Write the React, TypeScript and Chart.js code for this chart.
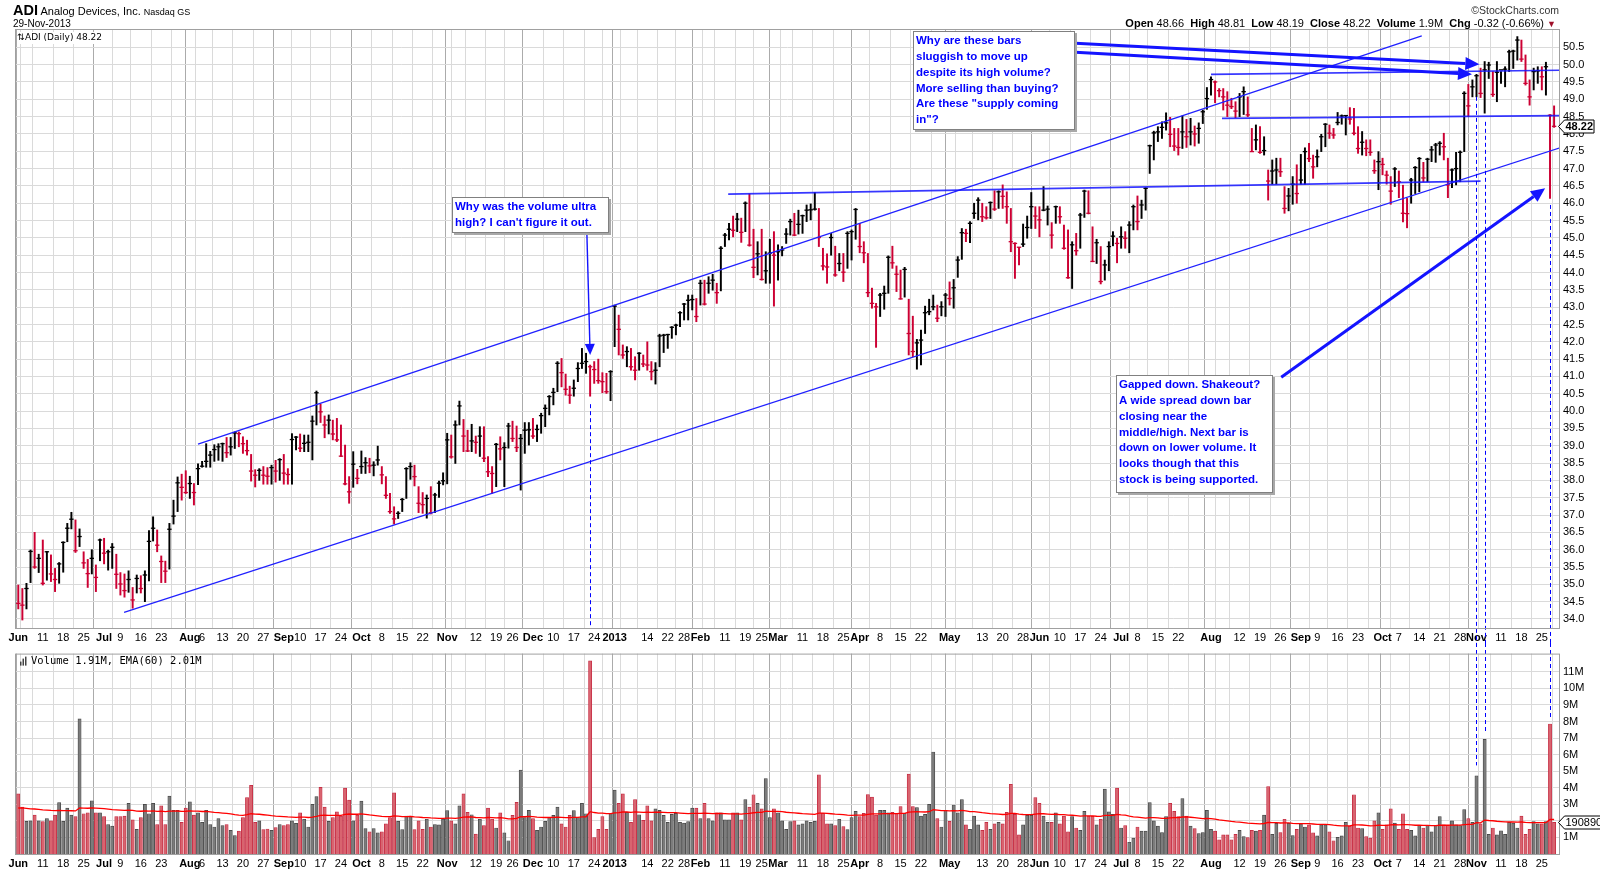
import React, { useEffect, useRef } from "react";
import { Chart, registerables } from "chart.js";

Chart.register(...registerables);

const FONT = '"Liberation Sans", Arial, Helvetica, sans-serif';
const MONO = '"DejaVu Sans Mono", "Liberation Mono", monospace';
const SANS = '"DejaVu Sans", Verdana, sans-serif';

// ---------------- data ----------------
const holidays = [
  "2012-07-04", "2012-09-03", "2012-10-29", "2012-10-30", "2012-11-22", "2012-12-25",
  "2013-01-01", "2013-01-21", "2013-02-18", "2013-03-29", "2013-05-27", "2013-07-04",
  "2013-09-02", "2013-11-28",
];
const firstDay = "2012-06-01";
const lastDay = "2013-11-29";

const xTickDates = [
  "2012-06-01", "2012-06-11", "2012-06-18", "2012-06-25", "2012-07-02", "2012-07-09", "2012-07-16", "2012-07-23",
  "2012-08-01", "2012-08-06", "2012-08-13", "2012-08-20", "2012-08-27", "2012-09-04", "2012-09-10", "2012-09-17",
  "2012-09-24", "2012-10-01", "2012-10-08", "2012-10-15", "2012-10-22", "2012-11-01", "2012-11-12", "2012-11-19",
  "2012-11-26", "2012-12-03", "2012-12-10", "2012-12-17", "2012-12-24", "2013-01-02", "2013-01-14", "2013-01-22",
  "2013-01-28", "2013-02-01", "2013-02-11", "2013-02-19", "2013-02-25", "2013-03-01", "2013-03-11", "2013-03-18",
  "2013-03-25", "2013-04-01", "2013-04-08", "2013-04-15", "2013-04-22", "2013-05-01", "2013-05-13", "2013-05-20",
  "2013-05-28", "2013-06-03", "2013-06-10", "2013-06-17", "2013-06-24", "2013-07-01", "2013-07-08", "2013-07-15",
  "2013-07-22", "2013-08-01", "2013-08-12", "2013-08-19", "2013-08-26", "2013-09-03", "2013-09-09", "2013-09-16",
  "2013-09-23", "2013-10-01", "2013-10-07", "2013-10-14", "2013-10-21", "2013-10-28", "2013-11-01", "2013-11-11",
  "2013-11-18", "2013-11-25",
];
const xTickTexts = [
  "Jun", "11", "18", "25", "Jul", "9", "16", "23",
  "Aug", "6", "13", "20", "27", "Sep", "10", "17",
  "24", "Oct", "8", "15", "22", "Nov", "12", "19",
  "26", "Dec", "10", "17", "24", "2013", "14", "22",
  "28", "Feb", "11", "19", "25", "Mar", "11", "18",
  "25", "Apr", "8", "15", "22", "May", "13", "20",
  "28", "Jun", "10", "17", "24", "Jul", "8", "15",
  "22", "Aug", "12", "19", "26", "Sep", "9", "16",
  "23", "Oct", "7", "14", "21", "28", "Nov", "11",
  "18", "25",
];

const highs = [
  34.98, 34.88, 35.03, 35.99, 36.50, 35.87, 36.28, 35.95, 35.85, 35.46,
  35.63, 36.23, 36.76, 37.08, 36.86, 36.60, 35.94, 35.72, 36.00, 35.56,
  36.31, 36.33, 35.99, 36.18, 35.87, 35.34, 35.30, 35.39, 34.91, 35.27,
  35.25, 35.39, 36.55, 36.95, 36.57, 35.82, 35.67, 36.76, 37.43, 38.10,
  38.18, 38.28, 38.12, 37.91, 38.48, 38.55, 39.06, 38.84, 39.03, 39.06,
  39.08, 39.24, 39.24, 39.40, 39.40, 39.26, 39.16, 38.75, 38.31, 38.34,
  38.40, 38.37, 38.44, 38.58, 38.63, 38.75, 38.34, 39.35, 39.27, 39.34,
  39.31, 39.31, 39.86, 40.58, 40.20, 39.86, 39.89, 39.74, 39.79, 39.60,
  39.02, 38.11, 38.83, 38.32, 38.85, 38.66, 38.64, 38.54, 38.99, 38.40,
  38.11, 37.63, 37.24, 37.10, 37.48, 38.37, 38.51, 38.44, 37.82, 37.65,
  37.58, 37.82, 37.63, 37.98, 38.22, 39.36, 39.31, 39.72, 40.29, 39.76,
  39.45, 39.62, 39.28, 39.55, 39.55, 38.69, 38.40, 39.07, 39.26, 39.09,
  39.65, 39.71, 39.57, 39.33, 39.67, 39.67, 39.79, 39.60, 39.94, 40.18,
  40.45, 40.66, 41.43, 41.52, 41.07, 40.72, 40.90, 41.40, 41.81, 41.67,
  41.33, 41.43, 41.50, 41.11, 41.09, 41.17, 43.06, 42.77, 41.91, 41.86,
  41.81, 41.57, 41.69, 41.62, 42.00, 41.43, 41.40, 42.22, 42.22, 42.22,
  42.44, 42.51, 42.87, 43.11, 43.35, 43.35, 43.25, 43.78, 43.78, 43.88,
  43.95, 43.69, 44.75, 45.13, 45.42, 45.63, 45.71, 45.57, 46.04, 46.27,
  45.25, 44.89, 45.25, 44.60, 44.96, 45.18, 44.80, 44.75, 45.27, 45.54,
  45.71, 45.80, 45.66, 45.95, 45.98, 46.31, 45.85, 44.70, 44.54, 45.13,
  44.76, 44.55, 44.55, 45.18, 45.23, 45.85, 45.42, 44.89, 44.55, 43.55,
  43.11, 43.40, 43.61, 44.48, 44.76, 44.19, 44.07, 44.15, 43.23, 42.74,
  42.07, 42.34, 43.03, 43.23, 43.35, 43.06, 43.16, 43.40, 43.73, 43.80,
  44.46, 45.27, 45.25, 45.47, 46.00, 46.16, 46.00, 45.90, 46.04, 46.36,
  46.36, 46.53, 46.33, 45.85, 44.86, 44.73, 45.40, 45.63, 46.31, 45.90,
  45.90, 46.48, 45.92, 45.44, 45.92, 45.90, 45.37, 45.23, 44.89, 45.13,
  45.71, 46.38, 46.36, 45.32, 44.96, 44.75, 44.36, 44.89, 45.18, 44.99,
  45.32, 45.18, 45.47, 45.95, 46.21, 46.09, 46.45, 47.68, 48.08, 48.21,
  48.35, 48.61, 48.48, 48.16, 48.16, 48.52, 48.42, 48.45, 48.23, 48.32,
  48.69, 49.34, 49.65, 49.53, 49.31, 49.31, 49.22, 49.03, 48.93, 49.17,
  49.36, 49.07, 48.16, 48.26, 48.21, 47.92, 46.96, 47.25, 47.30, 47.30,
  46.48, 46.43, 46.77, 47.11, 47.41, 47.60, 47.73, 47.39, 47.54, 47.99,
  48.30, 48.26, 48.16, 48.62, 48.55, 48.53, 48.76, 48.74, 48.21, 48.07,
  47.83, 47.83, 47.25, 47.49, 47.30, 46.93, 46.77, 47.03, 46.93, 46.52,
  46.14, 46.72, 47.06, 47.32, 47.18, 47.30, 47.64, 47.73, 47.78, 48.02,
  47.30, 46.99, 47.47, 47.51, 49.22, 49.43, 49.56, 49.72, 49.90, 50.09,
  50.07, 49.80, 50.09, 49.80, 49.94, 50.42, 50.42, 50.81, 50.71, 50.28,
  49.56, 49.90, 49.94, 49.94, 50.07, 48.56, 48.81,
];

const lows = [
  34.29, 33.97, 34.29, 35.05, 35.46, 35.34, 34.98, 35.12, 35.08, 34.79,
  35.03, 35.35, 36.23, 36.60, 35.92, 36.09, 35.46, 34.91, 35.30, 34.79,
  35.68, 35.59, 35.41, 35.46, 34.88, 34.69, 34.63, 34.77, 34.31, 34.75,
  34.75, 34.50, 35.10, 36.25, 35.94, 35.05, 35.05, 35.44, 36.74, 37.10,
  37.43, 37.62, 37.48, 37.29, 37.88, 38.38, 38.38, 38.38, 38.55, 38.58,
  38.55, 38.66, 38.73, 38.92, 38.97, 38.78, 38.73, 37.98, 37.81, 38.00,
  37.89, 37.89, 37.89, 37.95, 38.00, 37.89, 37.89, 37.89, 38.88, 38.83,
  38.83, 38.83, 38.59, 39.60, 39.67, 39.23, 39.34, 39.17, 39.12, 38.69,
  37.87, 37.34, 37.80, 37.90, 38.20, 38.20, 38.22, 38.13, 38.44, 37.90,
  37.48, 37.05, 36.74, 36.90, 37.10, 37.48, 38.03, 37.84, 37.07, 37.05,
  36.91, 37.03, 37.07, 37.51, 37.87, 37.90, 38.64, 38.49, 39.60, 38.83,
  38.83, 38.83, 38.78, 38.69, 38.54, 38.11, 37.63, 37.82, 38.59, 37.82,
  38.93, 39.12, 38.83, 37.72, 38.78, 39.02, 39.21, 39.12, 39.36, 39.55,
  39.89, 40.18, 40.56, 40.70, 40.46, 40.22, 40.43, 40.85, 41.23, 41.09,
  40.43, 40.80, 40.80, 40.53, 40.51, 40.30, 41.86, 41.62, 41.52, 41.28,
  41.18, 40.90, 41.18, 41.28, 41.18, 40.90, 40.78, 41.28, 41.69, 41.81,
  42.10, 42.20, 42.44, 42.63, 42.63, 42.92, 42.58, 43.06, 43.06, 43.40,
  43.49, 43.11, 43.47, 44.75, 44.94, 45.03, 45.18, 44.87, 45.18, 44.76,
  43.85, 43.93, 43.78, 43.69, 43.69, 43.03, 43.78, 44.48, 44.84, 45.08,
  45.06, 45.11, 45.13, 45.47, 45.52, 45.80, 44.75, 44.07, 43.69, 44.50,
  43.89, 44.05, 43.74, 44.12, 44.36, 44.96, 44.57, 44.28, 43.30, 42.97,
  41.84, 42.73, 42.94, 43.40, 44.12, 43.45, 43.23, 43.29, 41.62, 41.57,
  41.21, 41.33, 42.24, 42.78, 42.92, 42.58, 42.75, 42.73, 43.06, 42.97,
  43.86, 44.38, 44.89, 44.86, 45.56, 45.52, 45.47, 45.54, 45.56, 45.79,
  45.85, 45.85, 45.42, 44.60, 43.83, 44.22, 44.75, 44.99, 45.27, 45.27,
  45.03, 45.78, 45.37, 44.70, 45.42, 45.42, 44.67, 43.83, 43.54, 44.50,
  44.70, 45.59, 45.69, 44.31, 44.26, 43.67, 43.78, 44.05, 44.77, 44.28,
  44.70, 44.70, 44.57, 45.23, 45.23, 45.56, 45.80, 46.86, 47.25, 47.78,
  47.87, 48.11, 47.63, 47.52, 47.39, 47.58, 47.61, 47.68, 47.65, 47.73,
  48.30, 48.71, 49.12, 48.90, 49.07, 48.69, 48.50, 48.73, 48.47, 48.50,
  48.56, 48.50, 47.49, 47.54, 47.44, 47.39, 46.09, 46.55, 46.55, 46.77,
  45.71, 45.78, 45.97, 46.00, 46.55, 46.55, 47.20, 46.72, 47.05, 47.49,
  47.63, 47.87, 47.87, 48.26, 48.28, 47.97, 48.28, 47.97, 47.44, 47.39,
  47.37, 47.38, 46.86, 46.39, 46.82, 46.55, 45.97, 46.48, 46.16, 45.46,
  45.29, 46.00, 46.28, 46.33, 46.62, 46.62, 47.20, 47.18, 47.39, 47.25,
  46.16, 46.45, 46.53, 46.62, 47.49, 48.50, 49.07, 49.07, 49.05, 48.60,
  49.60, 49.08, 48.93, 49.46, 49.36, 49.80, 49.89, 50.13, 50.09, 49.41,
  48.83, 49.27, 49.46, 49.27, 49.12, 46.14, 48.19,
];

const closes = [
  34.45, 34.40, 34.88, 35.95, 35.50, 35.75, 35.03, 35.94, 35.30, 35.14,
  35.59, 36.21, 36.62, 36.88, 35.97, 36.38, 35.62, 35.31, 35.75, 35.20,
  36.28, 35.90, 35.94, 36.07, 35.29, 35.01, 34.82, 35.14, 34.55, 35.17,
  34.88, 35.27, 36.24, 36.62, 36.13, 35.66, 35.38, 36.59, 36.97, 37.93,
  37.80, 37.65, 37.91, 37.65, 38.34, 38.41, 38.55, 38.73, 38.89, 38.97,
  39.06, 38.80, 38.97, 39.37, 39.35, 39.06, 38.86, 38.27, 38.15, 38.29,
  38.15, 38.12, 38.37, 38.27, 38.60, 38.21, 38.17, 39.18, 39.25, 38.93,
  39.07, 39.10, 39.71, 40.53, 39.98, 39.60, 39.74, 39.34, 39.17, 38.70,
  37.90, 37.67, 38.47, 38.06, 38.40, 38.51, 38.42, 38.44, 38.59, 38.16,
  37.57, 37.10, 36.89, 37.05, 37.45, 38.34, 38.40, 38.11, 37.34, 37.30,
  37.48, 37.07, 37.58, 37.92, 37.99, 39.17, 38.68, 39.60, 40.15, 39.28,
  38.85, 39.14, 39.10, 39.28, 38.64, 38.25, 38.20, 39.04, 38.91, 38.95,
  39.57, 39.21, 38.95, 39.21, 39.45, 39.46, 39.28, 39.47, 39.87, 40.08,
  40.42, 40.54, 41.38, 41.11, 40.63, 40.46, 40.66, 41.23, 41.38, 41.43,
  41.28, 41.20, 40.88, 40.85, 40.56, 41.14, 43.03, 42.36, 41.62, 41.72,
  41.28, 41.18, 41.67, 41.36, 41.33, 41.14, 41.18, 42.17, 42.19, 42.21,
  42.42, 42.48, 42.84, 43.09, 43.20, 43.22, 42.73, 43.69, 43.09, 43.69,
  43.78, 43.42, 44.70, 45.08, 45.25, 45.22, 45.54, 45.16, 46.00, 44.79,
  44.15, 44.54, 43.80, 44.05, 44.56, 44.50, 44.60, 44.65, 45.11, 45.47,
  45.08, 45.39, 45.64, 45.80, 45.81, 45.83, 45.01, 44.19, 44.16, 45.01,
  43.93, 44.26, 44.01, 45.13, 45.18, 45.82, 44.75, 44.57, 43.42, 43.11,
  43.01, 43.35, 43.40, 44.44, 44.28, 43.95, 43.24, 44.09, 42.24, 41.72,
  41.97, 42.05, 42.84, 42.87, 43.01, 42.68, 43.01, 43.35, 43.25, 43.56,
  44.36, 45.15, 45.13, 45.42, 45.71, 46.09, 45.61, 45.58, 46.02, 45.83,
  46.33, 46.20, 45.90, 44.89, 44.84, 44.73, 44.82, 45.30, 45.90, 45.63,
  45.52, 45.80, 45.83, 45.08, 45.90, 45.61, 44.70, 43.85, 44.80, 44.63,
  45.66, 46.35, 45.71, 44.32, 44.86, 43.74, 44.22, 44.75, 45.05, 44.84,
  45.03, 44.99, 45.37, 45.90, 45.47, 45.95, 46.43, 47.66, 48.03, 48.06,
  48.19, 48.32, 47.99, 47.65, 47.61, 48.06, 47.92, 48.06, 48.00, 48.16,
  48.64, 49.02, 49.57, 49.50, 49.25, 49.07, 48.83, 48.79, 48.66, 49.07,
  49.22, 48.55, 47.49, 47.83, 47.47, 47.52, 46.64, 46.93, 46.96, 46.91,
  45.85, 46.21, 46.55, 46.28, 46.67, 47.49, 47.29, 47.05, 47.34, 47.92,
  48.28, 48.02, 47.97, 48.33, 48.52, 48.53, 48.43, 48.02, 47.58, 47.76,
  47.58, 47.47, 46.94, 47.20, 47.12, 46.81, 46.35, 46.99, 46.62, 45.71,
  45.70, 46.67, 47.03, 47.29, 46.73, 47.27, 47.54, 47.68, 47.73, 47.63,
  46.53, 46.96, 47.00, 47.47, 49.17, 48.81, 49.36, 49.68, 49.17, 49.85,
  49.99, 49.14, 49.78, 49.85, 49.87, 50.37, 50.39, 50.71, 50.16, 49.46,
  49.07, 49.80, 49.82, 49.65, 49.94, 48.54, 48.22,
];

// volume in millions of shares
const volumes = [
  3.63, 2.83, 1.97, 2.0, 2.35, 2.0, 1.95, 2.14, 2.0, 2.35,
  3.1, 1.97, 2.77, 2.35, 2.26, 8.16, 2.43, 2.49, 3.21, 2.49,
  2.49, 2.26, 1.78, 1.68, 2.26, 2.26, 2.29, 3.06, 2.06, 1.49,
  2.2, 3.0, 2.43, 3.06, 1.78, 2.91, 1.78, 3.5, 2.64, 2.64,
  1.91, 2.77, 3.15, 2.35, 2.49, 1.91, 2.64, 1.78, 1.63, 2.14,
  1.72, 1.78, 1.43, 1.11, 1.38, 2.2, 3.4, 4.15, 1.91, 2.0,
  1.47, 1.51, 1.43, 1.59, 1.78, 1.72, 1.78, 2.0, 1.85, 2.49,
  2.1, 1.63, 3.0, 3.46, 4.02, 2.83, 1.97, 2.2, 2.54, 2.29,
  3.98, 3.25, 2.0, 2.35, 3.19, 1.53, 1.34, 1.53, 1.28, 1.34,
  1.82, 2.2, 3.69, 1.97, 1.47, 2.29, 2.29, 1.47, 2.0, 1.49,
  2.1, 1.63, 1.78, 1.76, 2.1, 2.62, 2.0, 1.82, 2.91, 3.63,
  2.52, 2.37, 1.2, 2.1, 1.72, 2.77, 2.1, 1.57, 2.49, 1.28,
  0.8, 2.33, 3.12, 5.07, 2.2, 2.64, 2.14, 1.43, 1.63, 1.97,
  2.2, 2.33, 2.83, 1.82, 1.63, 2.33, 2.62, 2.2, 3.06, 2.43,
  11.66, 0.99, 1.49, 2.26, 1.49, 2.43, 3.86, 3.06, 3.63, 2.52,
  1.91, 3.29, 2.37, 2.03, 2.91, 2.0, 2.72, 2.64, 2.33, 1.91,
  2.39, 2.45, 1.91, 1.87, 1.95, 2.77, 2.77, 2.14, 3.06, 2.14,
  2.0, 2.49, 2.49, 2.06, 2.06, 2.49, 2.49, 2.06, 3.29, 2.83,
  3.58, 3.06, 2.72, 4.55, 2.2, 2.73, 2.49, 2.0, 1.49, 1.95,
  2.0, 1.76, 1.82, 2.0, 1.91, 1.97, 4.78, 2.45, 1.82, 1.82,
  1.72, 2.1, 1.66, 1.47, 2.2, 2.58, 2.26, 2.45, 3.59, 3.44,
  2.35, 2.64, 2.64, 2.49, 2.52, 2.45, 2.87, 2.45, 4.82, 2.87,
  2.81, 2.29, 2.39, 3.0, 6.16, 2.14, 1.63, 2.64, 1.97, 2.96,
  2.49, 3.29, 1.76, 1.49, 2.29, 1.76, 1.43, 1.91, 1.49, 1.82,
  1.91, 1.82, 2.52, 4.21, 2.39, 1.15, 1.76, 2.33, 2.33, 3.4,
  3.06, 2.29, 1.91, 1.91, 2.49, 1.82, 2.29, 1.34, 2.26, 1.57,
  1.43, 2.58, 2.29, 2.29, 1.76, 2.1, 3.92, 2.54, 2.39, 3.98,
  1.57, 1.72, 0.71, 0.96, 1.63, 1.38, 1.38, 3.1, 2.0, 1.68,
  1.3, 2.26, 3.06, 2.58, 2.26, 3.35, 2.29, 1.68, 1.53, 1.24,
  1.3, 2.64, 1.49, 1.38, 0.86, 1.15, 1.15, 0.86, 1.19, 1.43,
  1.05, 0.99, 1.43, 1.38, 1.43, 2.35, 4.07, 1.19, 1.85, 1.3,
  2.1, 1.85, 1.11, 1.49, 1.82, 1.63, 1.76, 1.28, 1.09, 1.76,
  1.76, 1.34, 0.8, 1.01, 1.09, 1.91, 1.68, 3.58, 1.57, 1.53,
  1.05, 0.96, 2.0, 2.49, 1.49, 1.76, 2.73, 1.87, 1.49, 2.43,
  1.49, 1.43, 1.09, 1.72, 1.57, 1.72, 1.34, 1.72, 2.26, 1.76,
  1.72, 2.0, 1.76, 1.72, 2.68, 2.14, 1.91, 4.72, 1.82, 6.92,
  1.19, 1.57, 1.15, 1.4, 1.19, 1.91, 1.87, 1.57, 2.29, 1.19,
  1.49, 1.95, 1.82, 1.82, 1.95, 7.85, 1.91,
];

const priorClose = 34.6;
const emaSeed = 2.75;
const emaPeriod = 60;
const lastClose = 48.22;
const lastVolumeLabel = "1908900";

const priceTicks = [
  34.0, 34.5, 35.0, 35.5, 36.0, 36.5, 37.0, 37.5, 38.0, 38.5, 39.0, 39.5, 40.0, 40.5, 41.0, 41.5, 42.0,
  42.5, 43.0, 43.5, 44.0, 44.5, 45.0, 45.5, 46.0, 46.5, 47.0, 47.5, 48.0, 48.5, 49.0, 49.5, 50.0, 50.5,
];
const volumeTicks = [1, 2, 3, 4, 5, 6, 7, 8, 9, 10, 11];

// annotations, in data coordinates [bar index, price]
const channelLines = [
  { from: [44.0, 39.05], to: [343.6, 50.83] },
  { from: [25.9, 34.19], to: [378.5, 47.64] },
];
const levelLines = [
  { from: [173.8, 46.26], to: [358.0, 46.64] },
  { from: [294.7, 48.45], to: [378.5, 48.53] },
  { from: [292.0, 49.72], to: [378.5, 49.84] },
];
const arrowLines = [
  { from: [139.2, 45.14], to: [140.0, 41.62], kind: "thin" },
  { from: [258.8, 50.62], to: [357.7, 50.01], kind: "thick" },
  { from: [258.8, 50.36], to: [355.9, 49.72], kind: "thick" },
  { from: [309.2, 40.98], to: [373.8, 46.43], kind: "thick" },
];
// dashed markers: bar index, price where it starts, volume where it ends (null: price panel only)
const dashMarkers = [
  { i: 140.0, p: 40.2, v: null },
  { i: 356.8, p: 49.07, v: 5.35 },
  { i: 359.1, p: 48.35, v: 7.36 },
  { i: 374.9, p: 45.95, v: 8.2 },
];
const notes = [
  { at: [106.2, 46.18], w: 157, h: 36, lines: ["Why was the volume ultra", "high? I can't figure it out."] },
  {
    at: [219.1, 50.97], w: 162, h: 99,
    lines: ["Why are these bars", "sluggish to move up", "despite its high volume?", "More selling than buying?", "Are these \"supply coming", "in\"?"],
  },
  {
    at: [268.8, 41.04], w: 157, h: 118,
    lines: ["Gapped down. Shakeout?", "A wide spread down bar", "closing near the", "middle/high. Next bar is", "down on lower volume. It", "looks though that this", "stock is being supported."],
  },
];

// ---------------- derived ----------------
function buildDates(): string[] {
  const out: string[] = [];
  const d = new Date(firstDay + "T00:00:00Z");
  const end = new Date(lastDay + "T00:00:00Z").getTime();
  while (d.getTime() <= end) {
    const dow = d.getUTCDay();
    const s = d.toISOString().slice(0, 10);
    if (dow !== 0 && dow !== 6 && holidays.indexOf(s) < 0) out.push(s);
    d.setUTCDate(d.getUTCDate() + 1);
  }
  return out;
}
const dates = buildDates();
const N = closes.length;
const isUp = closes.map((c, i) => c >= (i ? closes[i - 1] : priorClose));

const monthStart = new Set<number>();
const gridIdx: number[] = [];
dates.forEach((s, i) => {
  if (i >= N) return;
  if (i === 0) { monthStart.add(0); gridIdx.push(0); return; }
  const d = new Date(s + "T00:00:00Z");
  const q = new Date(dates[i - 1] + "T00:00:00Z");
  const newMonth = d.getUTCMonth() !== q.getUTCMonth();
  const newWeek = d.getUTCDay() < q.getUTCDay() || d.getTime() - q.getTime() >= 7 * 864e5;
  if (newMonth) monthStart.add(i);
  if (newMonth || newWeek) gridIdx.push(i);
});
const labelAt: Record<number, string> = {};
xTickDates.forEach((s, k) => {
  const i = dates.indexOf(s);
  if (i >= 0) labelAt[i] = xTickTexts[k];
});

const emaValues: number[] = [];
{
  let e = emaSeed;
  const k = 2 / (emaPeriod + 1);
  volumes.forEach((v) => { e = e + k * (v - e); emaValues.push(e); });
}

const X_MIN = -0.56;
const X_MAX = 377.2;
const P_MIN = 33.74;
const P_MAX = 51.0;
const V_MAX = 12.1;

const RED = "#cc0033";
const BLACK = "#000000";

function xScale(h: number): any {
  return {
    type: "linear",
    min: X_MIN,
    max: X_MAX,
    offset: false,
    afterBuildTicks: (s: any) => { s.ticks = gridIdx.map((v) => ({ value: v })); },
    afterFit: (s: any) => { s.height = h; },
    grid: {
      color: (c: any) => (c.tick && monthStart.has(c.tick.value) ? "#ababab" : "#dadada"),
      lineWidth: 1,
      drawTicks: false,
    },
    border: { display: false },
    ticks: {
      autoSkip: false,
      maxRotation: 0,
      minRotation: 0,
      padding: 3,
      color: "#000",
      callback: (v: any) => labelAt[v] ?? "",
      font: (c: any) => {
        const t = c.tick ? labelAt[c.tick.value] : undefined;
        return { family: FONT, size: 11, weight: t && !/^\d{1,2}$/.test(t) ? "bold" : "normal" };
      },
    },
  };
}

function drawArrow(ctx: CanvasRenderingContext2D, x1: number, y1: number, x2: number, y2: number, w: number, L: number, H: number) {
  const ang = Math.atan2(y2 - y1, x2 - x1);
  const bx = x2 - L * Math.cos(ang);
  const by = y2 - L * Math.sin(ang);
  ctx.lineWidth = w;
  ctx.beginPath();
  ctx.moveTo(x1, y1);
  ctx.lineTo(bx, by);
  ctx.stroke();
  ctx.beginPath();
  ctx.moveTo(x2, y2);
  ctx.lineTo(bx + H * Math.sin(ang), by - H * Math.cos(ang));
  ctx.lineTo(bx - H * Math.sin(ang), by + H * Math.cos(ang));
  ctx.closePath();
  ctx.fill();
}

function drawValueTag(ctx: CanvasRenderingContext2D, x0: number, y: number, text: string, bold: boolean, w: number) {
  ctx.beginPath();
  ctx.moveTo(x0 - 1.5, y);
  ctx.lineTo(x0 + 4.5, y - 6.5);
  ctx.lineTo(x0 + w, y - 6.5);
  ctx.lineTo(x0 + w, y + 6.5);
  ctx.lineTo(x0 + 4.5, y + 6.5);
  ctx.closePath();
  ctx.fillStyle = "#fff";
  ctx.fill();
  ctx.strokeStyle = "#000";
  ctx.lineWidth = 1;
  ctx.stroke();
  ctx.fillStyle = "#000";
  ctx.font = `${bold ? "bold " : ""}11px ${FONT}`;
  ctx.textBaseline = "middle";
  ctx.textAlign = "left";
  ctx.fillText(text, x0 + 5.5, y + 0.5);
}

const pricePlugin = {
  id: "priceOverlay",
  afterDraw(chart: any) {
    const ctx: CanvasRenderingContext2D = chart.ctx;
    const a = chart.chartArea;
    const xs = chart.scales.x;
    const ys = chart.scales.y;
    const X = (i: number) => xs.getPixelForValue(i);
    const Y = (p: number) => ys.getPixelForValue(p);
    ctx.save();

    // title
    ctx.font = `9px ${SANS}`;
    const title = "ADI (Daily) 48.22";
    const tw = ctx.measureText(title).width;
    ctx.fillStyle = "#fff";
    ctx.fillRect(a.left + 1, a.top + 2, tw + 11, 12);
    ctx.fillStyle = "#000";
    ctx.textBaseline = "middle";
    ctx.textAlign = "left";
    ctx.fillText("\u21C5", a.left + 1, a.top + 8);
    ctx.fillText(title, a.left + 9, a.top + 8);

    // lines clipped to the plot
    ctx.save();
    ctx.beginPath();
    ctx.rect(a.left, a.top, a.right - a.left, a.bottom - a.top);
    ctx.clip();
    ctx.strokeStyle = "#2020ff";
    ctx.lineWidth = 1.3;
    channelLines.forEach((l) => {
      ctx.beginPath();
      ctx.moveTo(X(l.from[0]), Y(l.from[1]));
      ctx.lineTo(X(l.to[0]), Y(l.to[1]));
      ctx.stroke();
    });
    ctx.strokeStyle = "rgba(20,20,255,0.85)";
    ctx.lineWidth = 1.7;
    levelLines.forEach((l) => {
      ctx.beginPath();
      ctx.moveTo(X(l.from[0]), Y(l.from[1]));
      ctx.lineTo(X(l.to[0]), Y(l.to[1]));
      ctx.stroke();
    });
    ctx.strokeStyle = "#1414ff";
    ctx.fillStyle = "#1414ff";
    arrowLines.forEach((l) => {
      const thick = l.kind === "thick";
      drawArrow(ctx, X(l.from[0]), Y(l.from[1]), X(l.to[0]), Y(l.to[1]), thick ? 3 : 1.4, thick ? 14 : 11, thick ? 6.5 : 5);
    });
    ctx.restore();

    // dashed markers
    ctx.strokeStyle = "#0000ff";
    ctx.lineWidth = 1;
    ctx.setLineDash([4, 3]);
    dashMarkers.forEach((m) => {
      const x = Math.round(X(m.i)) + 0.5;
      ctx.beginPath();
      ctx.moveTo(x, Y(m.p));
      ctx.lineTo(x, m.v == null ? a.bottom : chart.height);
      ctx.stroke();
    });
    ctx.setLineDash([]);

    // frame
    ctx.strokeStyle = "#a0a0a0";
    ctx.lineWidth = 1;
    ctx.strokeRect(a.left - 0.5, a.top - 0.5, a.right - a.left + 1, a.bottom - a.top + 1);

    // notes
    notes.forEach((n) => {
      const x = Math.round(X(n.at[0]));
      const y = Math.round(Y(n.at[1]));
      ctx.fillStyle = "#a8a8a8";
      ctx.fillRect(x + 2, y + 2, n.w, n.h);
      ctx.fillStyle = "#fff";
      ctx.fillRect(x, y, n.w, n.h);
      ctx.strokeStyle = "#808080";
      ctx.strokeRect(x + 0.5, y + 0.5, n.w - 1, n.h - 1);
      ctx.fillStyle = "#0000ff";
      ctx.font = `bold 11.5px ${FONT}`;
      ctx.textBaseline = "middle";
      ctx.textAlign = "left";
      n.lines.forEach((t, k) => ctx.fillText(t, x + 3, y + 10 + k * 15.8));
    });

    // last value tag
    drawValueTag(ctx, a.right + 1, Math.round(Y(lastClose)) + 0.5, lastClose.toFixed(2), true, 34);
    ctx.restore();
  },
};

const volumePlugin = {
  id: "volumeOverlay",
  afterDraw(chart: any) {
    const ctx: CanvasRenderingContext2D = chart.ctx;
    const a = chart.chartArea;
    const xs = chart.scales.x;
    const ys = chart.scales.y;
    ctx.save();
    ctx.strokeStyle = "#0000ff";
    ctx.lineWidth = 1;
    ctx.setLineDash([4, 3]);
    dashMarkers.forEach((m) => {
      if (m.v == null) return;
      const x = Math.round(xs.getPixelForValue(m.i)) + 0.5;
      ctx.beginPath();
      ctx.moveTo(x, 0);
      ctx.lineTo(x, ys.getPixelForValue(m.v));
      ctx.stroke();
    });
    ctx.setLineDash([]);
    ctx.strokeStyle = "#a0a0a0";
    ctx.strokeRect(a.left - 0.5, a.top + 0.5, a.right - a.left + 1, a.bottom - a.top);

    // label
    ctx.fillStyle = "#444";
    const ix = a.left + 4;
    const iy = a.top + 12;
    ctx.fillRect(ix, iy - 4, 1.5, 4);
    ctx.fillRect(ix + 2.5, iy - 7, 1.5, 7);
    ctx.fillRect(ix + 5, iy - 9, 1.5, 9);
    ctx.fillStyle = "#000";
    ctx.font = `10.5px ${MONO}`;
    ctx.textBaseline = "middle";
    ctx.textAlign = "left";
    ctx.fillText("Volume 1.91M, EMA(60) 2.01M", a.left + 15, a.top + 8);

    drawValueTag(ctx, a.right + 1, Math.round(ys.getPixelForValue(volumes[N - 1])) + 0.5, lastVolumeLabel, false, 60);
    ctx.restore();
  },
};

function priceConfig(): any {
  const colors = isUp.map((u) => (u ? BLACK : RED));
  return {
    type: "bar",
    data: {
      datasets: [
        {
          type: "bar",
          data: highs.map((h, i) => ({ x: i, y: [lows[i], h] })),
          backgroundColor: colors,
          borderWidth: 0,
          barThickness: 1.3,
          order: 2,
        },
        {
          type: "line",
          data: closes.map((c, i) => ({ x: i, y: c })),
          showLine: false,
          pointStyle: "line",
          pointRadius: 2.2,
          pointBorderWidth: 1.3,
          pointBorderColor: colors,
          pointBackgroundColor: colors,
          order: 1,
        },
      ],
    },
    options: {
      animation: false,
      responsive: false,
      devicePixelRatio: 1,
      events: [],
      layout: { padding: { left: 16, top: 30, right: 0, bottom: 0 } },
      plugins: { legend: { display: false }, tooltip: { enabled: false } },
      scales: {
        x: xScale(15),
        y: {
          type: "linear",
          position: "right",
          min: P_MIN,
          max: P_MAX,
          afterBuildTicks: (s: any) => { s.ticks = priceTicks.map((v) => ({ value: v })); },
          afterFit: (s: any) => { s.width = 41; },
          grid: { color: "#dadada", drawTicks: false },
          border: { display: false },
          ticks: { padding: 4, color: "#000", font: { family: FONT, size: 11 }, callback: (v: any) => Number(v).toFixed(1) },
        },
      },
    },
    plugins: [pricePlugin],
  };
}

function volumeConfig(): any {
  return {
    type: "bar",
    data: {
      datasets: [
        {
          type: "line",
          data: emaValues.map((e, i) => ({ x: i, y: e })),
          borderColor: "#ff0000",
          borderWidth: 1.3,
          pointRadius: 0,
          tension: 0,
          order: 1,
        },
        {
          type: "bar",
          data: volumes.map((v, i) => ({ x: i, y: v })),
          backgroundColor: isUp.map((u) => (u ? "#7c7c7c" : "#d8646f")),
          borderColor: isUp.map((u) => (u ? "#3f3f3f" : "#c2203a")),
          borderWidth: 0.7,
          barThickness: 3.2,
          order: 2,
        },
      ],
    },
    options: {
      animation: false,
      responsive: false,
      devicePixelRatio: 1,
      events: [],
      layout: { padding: { left: 16, top: 0, right: 0, bottom: 0 } },
      plugins: { legend: { display: false }, tooltip: { enabled: false } },
      scales: {
        x: xScale(16),
        y: {
          type: "linear",
          position: "right",
          min: 0,
          max: V_MAX,
          afterBuildTicks: (s: any) => { s.ticks = volumeTicks.map((v) => ({ value: v })); },
          afterFit: (s: any) => { s.width = 41; },
          grid: { color: "#dadada", drawTicks: false },
          border: { display: false },
          ticks: { padding: 4, color: "#000", font: { family: FONT, size: 11 }, callback: (v: any) => `${v}M` },
        },
      },
    },
    plugins: [volumePlugin],
  };
}

export default function App() {
  const priceRef = useRef<HTMLCanvasElement>(null);
  const volRef = useRef<HTMLCanvasElement>(null);

  useEffect(() => {
    const pc = new Chart(priceRef.current as HTMLCanvasElement, priceConfig());
    const vc = new Chart(volRef.current as HTMLCanvasElement, volumeConfig());
    return () => {
      pc.destroy();
      vc.destroy();
    };
  }, []);

  return (
    <div style={{ position: "absolute", left: 0, top: 0, width: 1600, height: 870, background: "#fff", overflow: "hidden" }}>
      <canvas ref={priceRef} width={1600} height={643} style={{ position: "absolute", left: 0, top: 0, width: 1600, height: 643 }} />
      <canvas ref={volRef} width={1600} height={227} style={{ position: "absolute", left: 0, top: 643, width: 1600, height: 227 }} />
      <div style={{ position: "absolute", left: 13, top: 1, fontFamily: FONT, whiteSpace: "nowrap", lineHeight: "17px", color: "#000" }}>
        <span style={{ fontWeight: "bold", fontSize: 14.5 }}>ADI</span>
        <span style={{ fontSize: 11 }}> Analog Devices, Inc. </span>
        <span style={{ fontSize: 9 }}>Nasdaq GS</span>
      </div>
      <div style={{ position: "absolute", left: 13, top: 18, fontFamily: FONT, fontSize: 10, lineHeight: "12px", color: "#000" }}>29-Nov-2013</div>
      <div style={{ position: "absolute", right: 41, top: 4, fontFamily: FONT, fontSize: 10.5, lineHeight: "13px", color: "#333" }}>
        {"\u00A9StockCharts.com"}
      </div>
      <div style={{ position: "absolute", right: 44, top: 16, fontFamily: FONT, fontSize: 11, lineHeight: "14px", whiteSpace: "pre", color: "#000" }}>
        <b>Open</b>{" 48.66  "}<b>High</b>{" 48.81  "}<b>Low</b>{" 48.19  "}<b>Close</b>{" 48.22  "}<b>Volume</b>{" 1.9M  "}<b>Chg</b>{" -0.32 (-0.66%) "}
        <span style={{ color: "#a0102a", fontSize: 9 }}>{"\u25BC"}</span>
      </div>
    </div>
  );
}
